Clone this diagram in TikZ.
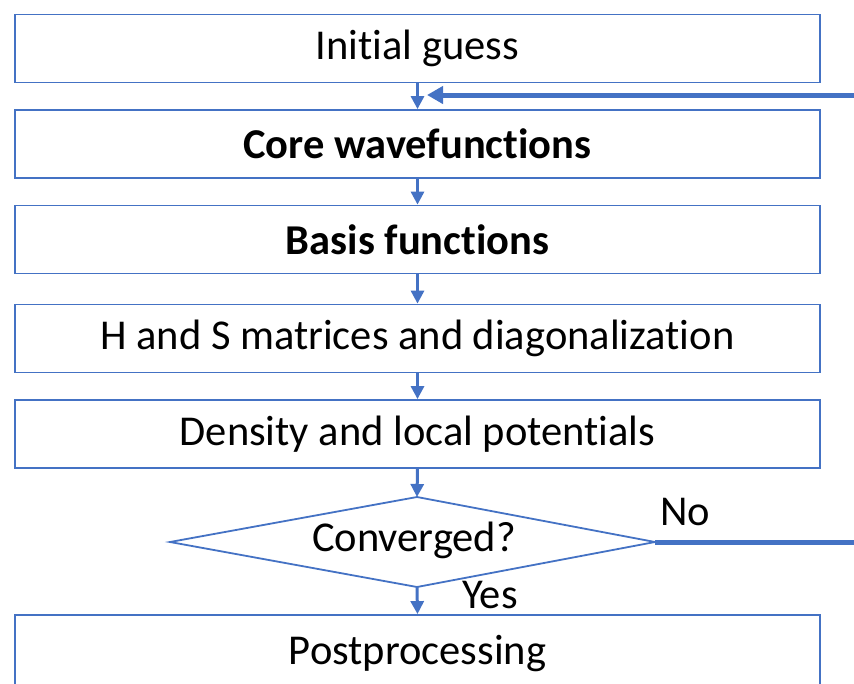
\documentclass[tikz,border=0pt]{standalone}
\usepackage{fontspec}
\setmainfont[Ligatures=CommonOff]{Carlito}
\usetikzlibrary{arrows.meta,calc}
\definecolor{flowblue}{HTML}{4472C4}
\tikzset{
  stepbox/.style={draw=flowblue, line width=1.8pt, fill=white, minimum width=805pt,
    minimum height=68pt, inner sep=0pt, font=\fontsize{42.5}{48}\selectfont},
  flow/.style={draw=flowblue, line width=3pt, -{Triangle[length=13pt,width=13pt]}},
  loopback/.style={draw=flowblue, line width=5pt, -{Triangle[length=16pt,width=17pt]}},
  lbl/.style={font=\fontsize{42.5}{48}\selectfont, inner sep=0pt}
}
\begin{document}
\begin{tikzpicture}[x=1pt,y=-1pt]
  \useasboundingbox (0,0) rectangle (854,683);
  \clip (0,0) rectangle (854,683);

  % process steps
  \node[stepbox] (init)  at (417.5,48.5) {Initial guess};
  \node[stepbox] (core)  at (417.5,144)  {\textbf{Core wavefunctions}};
  \node[stepbox] (basis) at (417.5,239.5){\textbf{Basis functions}};
  \node[stepbox] (hs)    at (417.5,338.5){H and S matrices and diagonalization};
  \node[stepbox] (dens)  at (417.5,434)  {Density and local potentials};
  \node[stepbox, minimum height=140pt, text depth=70pt] (post) at (417.5,685) {Postprocessing};

  % convergence test
  \coordinate (dt) at (417,497);
  \coordinate (db) at (417,587);
  \coordinate (dl) at (170,542);
  \coordinate (dr) at (655,542);
  \draw[flowblue, line width=1.8pt, line join=miter] (dt) -- (dr) -- (db) -- (dl) -- cycle;
  \node[lbl] (conv) at (414,540) {Converged?};
  \node[lbl] (no)  at (685,512) {No};
  \node[lbl] (yes) at (490,595) {Yes};

  % arrows down the chain
  \draw[flow] (init.south) -- (core.north);
  \draw[flow] (core.south) -- (basis.north);
  \draw[flow] (basis.south) -- (hs.north);
  \draw[flow] (hs.south) -- (dens.north);
  \draw[flow] (dens.south) -- (dt);
  \draw[flow] (db) -- (post.north);

  % iterate again when not converged
  \coordinate (loopR) at (900,542);
  \coordinate (loopT) at (900,95);
  \coordinate (loopE) at (427,95);
  \draw[loopback] (dr) -- (loopR) -- (loopT) -- (loopE);
\end{tikzpicture}
\end{document}
